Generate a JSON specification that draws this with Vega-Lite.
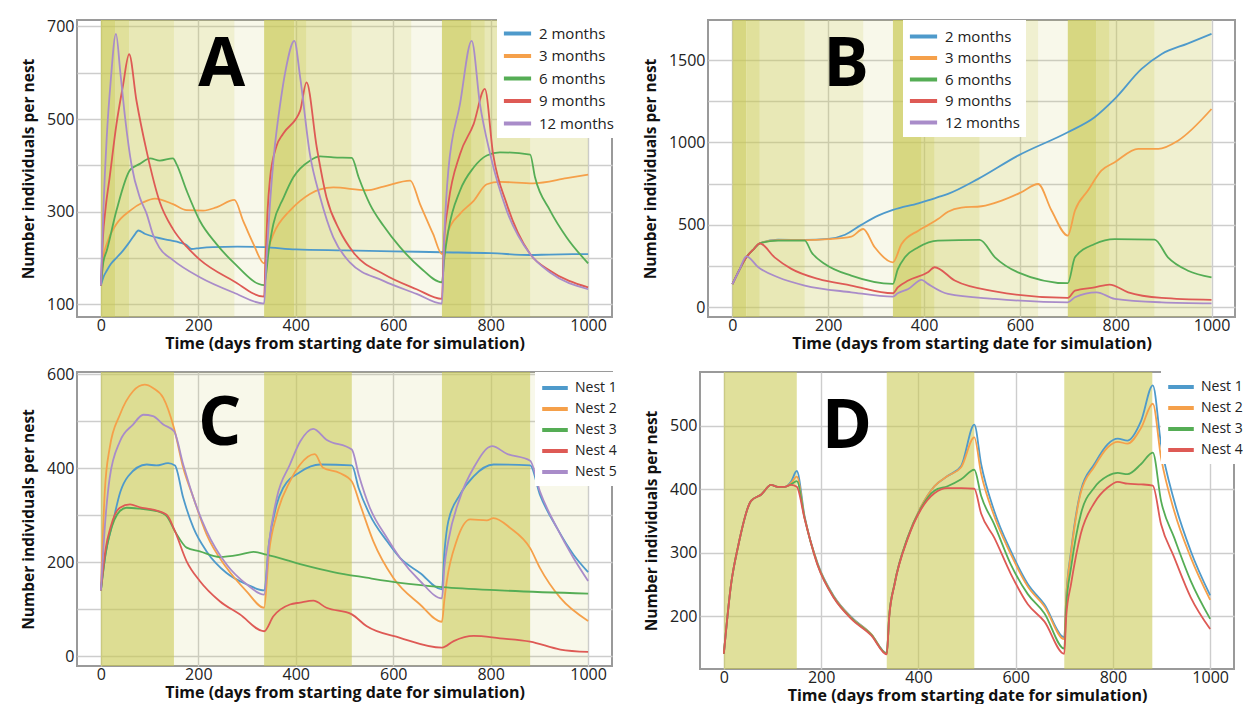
{
  "$schema": "https://vega.github.io/schema/vega-lite/v6.json",
  "background": "white",
  "padding": {"left": 20, "top": 16, "right": 0, "bottom": 0},
  "config": {
    "font": "Open Sans",
    "view": {"stroke": "#9a9a9a", "strokeWidth": 2},
    "axis": {"domain": false, "ticks": false, "gridColor": "#cdcdcd", "gridWidth": 1.4, "labelFontSize": 16, "labelColor": "#222222", "titleFontSize": 16, "titleFontWeight": "bold", "titleColor": "#111111", "labelFont": "Open Sans", "titleFont": "Open Sans", "format": "d"},
    "axisX": {"labelPadding": 0, "titlePadding": 2},
    "axisY": {"labelPadding": 3, "titlePadding": 10, "titleFontSize": 15.5},
    "legend": {"orient": "none", "fillColor": "white", "symbolType": "M-1.6,0H1.6", "symbolStrokeWidth": 4, "symbolSize": 289, "symbolOffset": 4, "labelFontSize": 15, "labelColor": "#222222", "labelFont": "Open Sans", "padding": 6, "rowPadding": 3.5, "labelOffset": 11, "title": null}
  },
  "datasets": {
    "bandsA": [
      {"start": 0, "end": 30, "shade": 4}, {"start": 30, "end": 58, "shade": 3}, {"start": 58, "end": 150, "shade": 2}, {"start": 150, "end": 274, "shade": 1}, {"start": 274, "end": 335, "shade": 0},
      {"start": 335, "end": 397, "shade": 4}, {"start": 397, "end": 422, "shade": 3}, {"start": 422, "end": 515, "shade": 2}, {"start": 515, "end": 637, "shade": 1}, {"start": 637, "end": 700, "shade": 0},
      {"start": 700, "end": 761, "shade": 4}, {"start": 761, "end": 788, "shade": 3}, {"start": 788, "end": 881, "shade": 2}, {"start": 881, "end": 1000, "shade": 1}
    ],
    "bandsB": [
      {"start": 0, "end": 29, "shade": 4}, {"start": 29, "end": 57, "shade": 3}, {"start": 57, "end": 151, "shade": 2}, {"start": 151, "end": 273, "shade": 1}, {"start": 273, "end": 335, "shade": 0},
      {"start": 335, "end": 395, "shade": 4}, {"start": 395, "end": 422, "shade": 3}, {"start": 422, "end": 516, "shade": 2}, {"start": 516, "end": 638, "shade": 1}, {"start": 638, "end": 700, "shade": 0},
      {"start": 700, "end": 760, "shade": 4}, {"start": 760, "end": 787, "shade": 3}, {"start": 787, "end": 881, "shade": 2}, {"start": 881, "end": 1000, "shade": 1}
    ],
    "bandsC": [
      {"start": 0, "end": 150, "shade": 3.3}, {"start": 150, "end": 335, "shade": 0},
      {"start": 335, "end": 515, "shade": 3.3}, {"start": 515, "end": 700, "shade": 0},
      {"start": 700, "end": 881, "shade": 3.3}, {"start": 881, "end": 1000, "shade": 0}
    ],
    "bandsD": [
      {"start": 0, "end": 150, "shade": 3}, {"start": 335, "end": 515, "shade": 3}, {"start": 700, "end": 881, "shade": 3}
    ],
    "A": [
      {"t": 0, "n": 140, "s": "2 months"}, {"t": 6, "n": 160, "s": "2 months"}, {"t": 12, "n": 172, "s": "2 months"}, {"t": 20, "n": 186, "s": "2 months"}, {"t": 32, "n": 200, "s": "2 months"}, {"t": 45, "n": 215, "s": "2 months"}, {"t": 56, "n": 230, "s": "2 months"}, {"t": 68, "n": 248, "s": "2 months"}, {"t": 77, "n": 259, "s": "2 months"}, {"t": 90, "n": 252, "s": "2 months"}, {"t": 114, "n": 244, "s": "2 months"}, {"t": 140, "n": 238, "s": "2 months"}, {"t": 162, "n": 233, "s": "2 months"}, {"t": 175, "n": 228, "s": "2 months"}, {"t": 186, "n": 219, "s": "2 months"}, {"t": 203, "n": 221, "s": "2 months"}, {"t": 230, "n": 223, "s": "2 months"}, {"t": 280, "n": 224, "s": "2 months"}, {"t": 335, "n": 223, "s": "2 months"}, {"t": 400, "n": 218, "s": "2 months"}, {"t": 500, "n": 216, "s": "2 months"}, {"t": 600, "n": 214, "s": "2 months"}, {"t": 700, "n": 212, "s": "2 months"}, {"t": 800, "n": 210, "s": "2 months"}, {"t": 880, "n": 206, "s": "2 months"}, {"t": 920, "n": 207, "s": "2 months"}, {"t": 1000, "n": 208, "s": "2 months"},
      {"t": 0, "n": 140, "s": "3 months"}, {"t": 5, "n": 200, "s": "3 months"}, {"t": 12, "n": 230, "s": "3 months"}, {"t": 32, "n": 273, "s": "3 months"}, {"t": 60, "n": 302, "s": "3 months"}, {"t": 87, "n": 320, "s": "3 months"}, {"t": 111, "n": 328, "s": "3 months"}, {"t": 148, "n": 316, "s": "3 months"}, {"t": 176, "n": 303, "s": "3 months"}, {"t": 210, "n": 302, "s": "3 months"}, {"t": 237, "n": 309, "s": "3 months"}, {"t": 274, "n": 325, "s": "3 months"}, {"t": 292, "n": 280, "s": "3 months"}, {"t": 313, "n": 230, "s": "3 months"}, {"t": 335, "n": 188, "s": "3 months"}, {"t": 345, "n": 225, "s": "3 months"}, {"t": 354, "n": 251, "s": "3 months"}, {"t": 388, "n": 302, "s": "3 months"}, {"t": 409, "n": 323, "s": "3 months"}, {"t": 429, "n": 338, "s": "3 months"}, {"t": 450, "n": 348, "s": "3 months"}, {"t": 477, "n": 352, "s": "3 months"}, {"t": 545, "n": 346, "s": "3 months"}, {"t": 580, "n": 354, "s": "3 months"}, {"t": 635, "n": 367, "s": "3 months"}, {"t": 655, "n": 316, "s": "3 months"}, {"t": 682, "n": 251, "s": "3 months"}, {"t": 700, "n": 208, "s": "3 months"}, {"t": 713, "n": 258, "s": "3 months"}, {"t": 737, "n": 295, "s": "3 months"}, {"t": 765, "n": 323, "s": "3 months"}, {"t": 792, "n": 359, "s": "3 months"}, {"t": 819, "n": 364, "s": "3 months"}, {"t": 887, "n": 361, "s": "3 months"}, {"t": 956, "n": 372, "s": "3 months"}, {"t": 1000, "n": 380, "s": "3 months"},
      {"t": 0, "n": 140, "s": "6 months"}, {"t": 5, "n": 190, "s": "6 months"}, {"t": 12, "n": 215, "s": "6 months"}, {"t": 32, "n": 302, "s": "6 months"}, {"t": 60, "n": 390, "s": "6 months"}, {"t": 80, "n": 403, "s": "6 months"}, {"t": 101, "n": 415, "s": "6 months"}, {"t": 121, "n": 410, "s": "6 months"}, {"t": 148, "n": 415, "s": "6 months"}, {"t": 155, "n": 403, "s": "6 months"}, {"t": 176, "n": 345, "s": "6 months"}, {"t": 203, "n": 280, "s": "6 months"}, {"t": 237, "n": 230, "s": "6 months"}, {"t": 272, "n": 190, "s": "6 months"}, {"t": 335, "n": 141, "s": "6 months"}, {"t": 345, "n": 220, "s": "6 months"}, {"t": 354, "n": 273, "s": "6 months"}, {"t": 375, "n": 330, "s": "6 months"}, {"t": 395, "n": 374, "s": "6 months"}, {"t": 429, "n": 410, "s": "6 months"}, {"t": 450, "n": 419, "s": "6 months"}, {"t": 477, "n": 417, "s": "6 months"}, {"t": 515, "n": 416, "s": "6 months"}, {"t": 529, "n": 374, "s": "6 months"}, {"t": 552, "n": 316, "s": "6 months"}, {"t": 580, "n": 269, "s": "6 months"}, {"t": 614, "n": 223, "s": "6 months"}, {"t": 655, "n": 179, "s": "6 months"}, {"t": 700, "n": 147, "s": "6 months"}, {"t": 705, "n": 200, "s": "6 months"}, {"t": 713, "n": 258, "s": "6 months"}, {"t": 737, "n": 345, "s": "6 months"}, {"t": 765, "n": 395, "s": "6 months"}, {"t": 792, "n": 421, "s": "6 months"}, {"t": 819, "n": 428, "s": "6 months"}, {"t": 881, "n": 423, "s": "6 months"}, {"t": 891, "n": 374, "s": "6 months"}, {"t": 922, "n": 302, "s": "6 months"}, {"t": 956, "n": 244, "s": "6 months"}, {"t": 1000, "n": 188, "s": "6 months"},
      {"t": 0, "n": 140, "s": "9 months"}, {"t": 4, "n": 240, "s": "9 months"}, {"t": 10, "n": 310, "s": "9 months"}, {"t": 18, "n": 374, "s": "9 months"}, {"t": 32, "n": 489, "s": "9 months"}, {"t": 45, "n": 570, "s": "9 months"}, {"t": 58, "n": 640, "s": "9 months"}, {"t": 73, "n": 540, "s": "9 months"}, {"t": 94, "n": 430, "s": "9 months"}, {"t": 121, "n": 320, "s": "9 months"}, {"t": 148, "n": 262, "s": "9 months"}, {"t": 176, "n": 224, "s": "9 months"}, {"t": 203, "n": 196, "s": "9 months"}, {"t": 272, "n": 150, "s": "9 months"}, {"t": 335, "n": 116, "s": "9 months"}, {"t": 338, "n": 200, "s": "9 months"}, {"t": 342, "n": 300, "s": "9 months"}, {"t": 347, "n": 370, "s": "9 months"}, {"t": 360, "n": 440, "s": "9 months"}, {"t": 374, "n": 468, "s": "9 months"}, {"t": 409, "n": 518, "s": "9 months"}, {"t": 422, "n": 579, "s": "9 months"}, {"t": 443, "n": 439, "s": "9 months"}, {"t": 463, "n": 331, "s": "9 months"}, {"t": 490, "n": 259, "s": "9 months"}, {"t": 518, "n": 212, "s": "9 months"}, {"t": 580, "n": 165, "s": "9 months"}, {"t": 648, "n": 132, "s": "9 months"}, {"t": 700, "n": 111, "s": "9 months"}, {"t": 704, "n": 230, "s": "9 months"}, {"t": 713, "n": 316, "s": "9 months"}, {"t": 737, "n": 424, "s": "9 months"}, {"t": 765, "n": 489, "s": "9 months"}, {"t": 788, "n": 565, "s": "9 months"}, {"t": 805, "n": 424, "s": "9 months"}, {"t": 833, "n": 316, "s": "9 months"}, {"t": 881, "n": 208, "s": "9 months"}, {"t": 922, "n": 172, "s": "9 months"}, {"t": 1000, "n": 136, "s": "9 months"},
      {"t": 0, "n": 140, "s": "12 months"}, {"t": 5, "n": 300, "s": "12 months"}, {"t": 12, "n": 460, "s": "12 months"}, {"t": 20, "n": 580, "s": "12 months"}, {"t": 31, "n": 684, "s": "12 months"}, {"t": 40, "n": 600, "s": "12 months"}, {"t": 50, "n": 500, "s": "12 months"}, {"t": 63, "n": 400, "s": "12 months"}, {"t": 80, "n": 330, "s": "12 months"}, {"t": 94, "n": 295, "s": "12 months"}, {"t": 107, "n": 250, "s": "12 months"}, {"t": 120, "n": 222, "s": "12 months"}, {"t": 148, "n": 195, "s": "12 months"}, {"t": 203, "n": 158, "s": "12 months"}, {"t": 272, "n": 125, "s": "12 months"}, {"t": 335, "n": 101, "s": "12 months"}, {"t": 340, "n": 200, "s": "12 months"}, {"t": 347, "n": 316, "s": "12 months"}, {"t": 355, "n": 420, "s": "12 months"}, {"t": 368, "n": 532, "s": "12 months"}, {"t": 380, "n": 610, "s": "12 months"}, {"t": 397, "n": 669, "s": "12 months"}, {"t": 409, "n": 590, "s": "12 months"}, {"t": 429, "n": 424, "s": "12 months"}, {"t": 450, "n": 331, "s": "12 months"}, {"t": 477, "n": 244, "s": "12 months"}, {"t": 511, "n": 190, "s": "12 months"}, {"t": 580, "n": 150, "s": "12 months"}, {"t": 648, "n": 122, "s": "12 months"}, {"t": 700, "n": 101, "s": "12 months"}, {"t": 705, "n": 250, "s": "12 months"}, {"t": 713, "n": 388, "s": "12 months"}, {"t": 737, "n": 532, "s": "12 months"}, {"t": 761, "n": 669, "s": "12 months"}, {"t": 778, "n": 532, "s": "12 months"}, {"t": 799, "n": 424, "s": "12 months"}, {"t": 833, "n": 302, "s": "12 months"}, {"t": 881, "n": 208, "s": "12 months"}, {"t": 922, "n": 168, "s": "12 months"}, {"t": 1000, "n": 132, "s": "12 months"}
    ],
    "B": [
      {"t": 0, "n": 140, "s": "2 months"}, {"t": 15, "n": 230, "s": "2 months"}, {"t": 29, "n": 303, "s": "2 months"}, {"t": 45, "n": 355, "s": "2 months"}, {"t": 57, "n": 388, "s": "2 months"}, {"t": 95, "n": 410, "s": "2 months"}, {"t": 151, "n": 409, "s": "2 months"}, {"t": 200, "n": 415, "s": "2 months"}, {"t": 235, "n": 440, "s": "2 months"}, {"t": 269, "n": 500, "s": "2 months"}, {"t": 304, "n": 556, "s": "2 months"}, {"t": 335, "n": 591, "s": "2 months"}, {"t": 388, "n": 631, "s": "2 months"}, {"t": 408, "n": 648, "s": "2 months"}, {"t": 429, "n": 668, "s": "2 months"}, {"t": 450, "n": 688, "s": "2 months"}, {"t": 513, "n": 779, "s": "2 months"}, {"t": 596, "n": 920, "s": "2 months"}, {"t": 700, "n": 1062, "s": "2 months"}, {"t": 756, "n": 1153, "s": "2 months"}, {"t": 798, "n": 1264, "s": "2 months"}, {"t": 854, "n": 1446, "s": "2 months"}, {"t": 896, "n": 1537, "s": "2 months"}, {"t": 950, "n": 1600, "s": "2 months"}, {"t": 1000, "n": 1659, "s": "2 months"},
      {"t": 0, "n": 140, "s": "3 months"}, {"t": 15, "n": 230, "s": "3 months"}, {"t": 29, "n": 303, "s": "3 months"}, {"t": 45, "n": 355, "s": "3 months"}, {"t": 57, "n": 388, "s": "3 months"}, {"t": 95, "n": 408, "s": "3 months"}, {"t": 151, "n": 407, "s": "3 months"}, {"t": 200, "n": 413, "s": "3 months"}, {"t": 248, "n": 428, "s": "3 months"}, {"t": 273, "n": 475, "s": "3 months"}, {"t": 297, "n": 364, "s": "3 months"}, {"t": 335, "n": 273, "s": "3 months"}, {"t": 353, "n": 384, "s": "3 months"}, {"t": 388, "n": 465, "s": "3 months"}, {"t": 409, "n": 500, "s": "3 months"}, {"t": 429, "n": 535, "s": "3 months"}, {"t": 450, "n": 580, "s": "3 months"}, {"t": 478, "n": 605, "s": "3 months"}, {"t": 520, "n": 613, "s": "3 months"}, {"t": 562, "n": 647, "s": "3 months"}, {"t": 603, "n": 698, "s": "3 months"}, {"t": 638, "n": 748, "s": "3 months"}, {"t": 666, "n": 587, "s": "3 months"}, {"t": 700, "n": 435, "s": "3 months"}, {"t": 715, "n": 587, "s": "3 months"}, {"t": 742, "n": 708, "s": "3 months"}, {"t": 770, "n": 829, "s": "3 months"}, {"t": 798, "n": 880, "s": "3 months"}, {"t": 847, "n": 961, "s": "3 months"}, {"t": 889, "n": 961, "s": "3 months"}, {"t": 930, "n": 1011, "s": "3 months"}, {"t": 1000, "n": 1203, "s": "3 months"},
      {"t": 0, "n": 140, "s": "6 months"}, {"t": 15, "n": 230, "s": "6 months"}, {"t": 29, "n": 303, "s": "6 months"}, {"t": 45, "n": 355, "s": "6 months"}, {"t": 57, "n": 388, "s": "6 months"}, {"t": 95, "n": 405, "s": "6 months"}, {"t": 151, "n": 405, "s": "6 months"}, {"t": 165, "n": 334, "s": "6 months"}, {"t": 193, "n": 263, "s": "6 months"}, {"t": 248, "n": 192, "s": "6 months"}, {"t": 335, "n": 142, "s": "6 months"}, {"t": 345, "n": 230, "s": "6 months"}, {"t": 360, "n": 303, "s": "6 months"}, {"t": 388, "n": 364, "s": "6 months"}, {"t": 429, "n": 404, "s": "6 months"}, {"t": 516, "n": 409, "s": "6 months"}, {"t": 548, "n": 303, "s": "6 months"}, {"t": 596, "n": 212, "s": "6 months"}, {"t": 700, "n": 146, "s": "6 months"}, {"t": 715, "n": 303, "s": "6 months"}, {"t": 756, "n": 384, "s": "6 months"}, {"t": 798, "n": 413, "s": "6 months"}, {"t": 881, "n": 411, "s": "6 months"}, {"t": 909, "n": 303, "s": "6 months"}, {"t": 951, "n": 222, "s": "6 months"}, {"t": 1000, "n": 182, "s": "6 months"},
      {"t": 0, "n": 140, "s": "9 months"}, {"t": 15, "n": 230, "s": "9 months"}, {"t": 29, "n": 303, "s": "9 months"}, {"t": 45, "n": 355, "s": "9 months"}, {"t": 57, "n": 388, "s": "9 months"}, {"t": 88, "n": 303, "s": "9 months"}, {"t": 123, "n": 233, "s": "9 months"}, {"t": 179, "n": 172, "s": "9 months"}, {"t": 248, "n": 132, "s": "9 months"}, {"t": 335, "n": 85, "s": "9 months"}, {"t": 345, "n": 120, "s": "9 months"}, {"t": 367, "n": 162, "s": "9 months"}, {"t": 408, "n": 212, "s": "9 months"}, {"t": 422, "n": 243, "s": "9 months"}, {"t": 464, "n": 162, "s": "9 months"}, {"t": 548, "n": 97, "s": "9 months"}, {"t": 700, "n": 57, "s": "9 months"}, {"t": 715, "n": 101, "s": "9 months"}, {"t": 756, "n": 121, "s": "9 months"}, {"t": 787, "n": 138, "s": "9 months"}, {"t": 826, "n": 91, "s": "9 months"}, {"t": 896, "n": 57, "s": "9 months"}, {"t": 1000, "n": 45, "s": "9 months"},
      {"t": 0, "n": 140, "s": "12 months"}, {"t": 15, "n": 230, "s": "12 months"}, {"t": 29, "n": 309, "s": "12 months"}, {"t": 54, "n": 243, "s": "12 months"}, {"t": 95, "n": 182, "s": "12 months"}, {"t": 151, "n": 132, "s": "12 months"}, {"t": 248, "n": 91, "s": "12 months"}, {"t": 335, "n": 65, "s": "12 months"}, {"t": 345, "n": 85, "s": "12 months"}, {"t": 367, "n": 111, "s": "12 months"}, {"t": 395, "n": 166, "s": "12 months"}, {"t": 408, "n": 142, "s": "12 months"}, {"t": 450, "n": 81, "s": "12 months"}, {"t": 548, "n": 51, "s": "12 months"}, {"t": 700, "n": 30, "s": "12 months"}, {"t": 715, "n": 61, "s": "12 months"}, {"t": 760, "n": 91, "s": "12 months"}, {"t": 798, "n": 51, "s": "12 months"}, {"t": 896, "n": 30, "s": "12 months"}, {"t": 1000, "n": 24, "s": "12 months"}
    ],
    "C": [
      {"t": 0, "n": 140, "s": "Nest 1"}, {"t": 10, "n": 220, "s": "Nest 1"}, {"t": 25, "n": 287, "s": "Nest 1"}, {"t": 40, "n": 350, "s": "Nest 1"}, {"t": 56, "n": 383, "s": "Nest 1"}, {"t": 94, "n": 408, "s": "Nest 1"}, {"t": 114, "n": 406, "s": "Nest 1"}, {"t": 138, "n": 411, "s": "Nest 1"}, {"t": 152, "n": 406, "s": "Nest 1"}, {"t": 169, "n": 337, "s": "Nest 1"}, {"t": 190, "n": 273, "s": "Nest 1"}, {"t": 217, "n": 223, "s": "Nest 1"}, {"t": 258, "n": 177, "s": "Nest 1"}, {"t": 299, "n": 153, "s": "Nest 1"}, {"t": 335, "n": 140, "s": "Nest 1"}, {"t": 345, "n": 240, "s": "Nest 1"}, {"t": 360, "n": 320, "s": "Nest 1"}, {"t": 374, "n": 358, "s": "Nest 1"}, {"t": 409, "n": 392, "s": "Nest 1"}, {"t": 450, "n": 408, "s": "Nest 1"}, {"t": 515, "n": 406, "s": "Nest 1"}, {"t": 529, "n": 358, "s": "Nest 1"}, {"t": 552, "n": 301, "s": "Nest 1"}, {"t": 587, "n": 245, "s": "Nest 1"}, {"t": 614, "n": 209, "s": "Nest 1"}, {"t": 655, "n": 177, "s": "Nest 1"}, {"t": 700, "n": 142, "s": "Nest 1"}, {"t": 705, "n": 220, "s": "Nest 1"}, {"t": 713, "n": 287, "s": "Nest 1"}, {"t": 737, "n": 344, "s": "Nest 1"}, {"t": 765, "n": 383, "s": "Nest 1"}, {"t": 806, "n": 408, "s": "Nest 1"}, {"t": 881, "n": 406, "s": "Nest 1"}, {"t": 901, "n": 344, "s": "Nest 1"}, {"t": 936, "n": 273, "s": "Nest 1"}, {"t": 970, "n": 216, "s": "Nest 1"}, {"t": 1000, "n": 179, "s": "Nest 1"},
      {"t": 0, "n": 140, "s": "Nest 2"}, {"t": 8, "n": 350, "s": "Nest 2"}, {"t": 18, "n": 443, "s": "Nest 2"}, {"t": 39, "n": 514, "s": "Nest 2"}, {"t": 66, "n": 564, "s": "Nest 2"}, {"t": 90, "n": 578, "s": "Nest 2"}, {"t": 107, "n": 571, "s": "Nest 2"}, {"t": 128, "n": 550, "s": "Nest 2"}, {"t": 150, "n": 486, "s": "Nest 2"}, {"t": 169, "n": 401, "s": "Nest 2"}, {"t": 190, "n": 337, "s": "Nest 2"}, {"t": 217, "n": 259, "s": "Nest 2"}, {"t": 258, "n": 188, "s": "Nest 2"}, {"t": 299, "n": 138, "s": "Nest 2"}, {"t": 335, "n": 103, "s": "Nest 2"}, {"t": 345, "n": 220, "s": "Nest 2"}, {"t": 361, "n": 301, "s": "Nest 2"}, {"t": 388, "n": 372, "s": "Nest 2"}, {"t": 409, "n": 408, "s": "Nest 2"}, {"t": 439, "n": 430, "s": "Nest 2"}, {"t": 456, "n": 401, "s": "Nest 2"}, {"t": 490, "n": 390, "s": "Nest 2"}, {"t": 515, "n": 372, "s": "Nest 2"}, {"t": 532, "n": 323, "s": "Nest 2"}, {"t": 559, "n": 245, "s": "Nest 2"}, {"t": 600, "n": 167, "s": "Nest 2"}, {"t": 655, "n": 110, "s": "Nest 2"}, {"t": 700, "n": 73, "s": "Nest 2"}, {"t": 705, "n": 120, "s": "Nest 2"}, {"t": 710, "n": 160, "s": "Nest 2"}, {"t": 730, "n": 245, "s": "Nest 2"}, {"t": 758, "n": 291, "s": "Nest 2"}, {"t": 792, "n": 289, "s": "Nest 2"}, {"t": 806, "n": 294, "s": "Nest 2"}, {"t": 840, "n": 273, "s": "Nest 2"}, {"t": 881, "n": 230, "s": "Nest 2"}, {"t": 901, "n": 188, "s": "Nest 2"}, {"t": 943, "n": 124, "s": "Nest 2"}, {"t": 1000, "n": 75, "s": "Nest 2"},
      {"t": 0, "n": 140, "s": "Nest 3"}, {"t": 10, "n": 220, "s": "Nest 3"}, {"t": 18, "n": 259, "s": "Nest 3"}, {"t": 39, "n": 309, "s": "Nest 3"}, {"t": 53, "n": 316, "s": "Nest 3"}, {"t": 80, "n": 314, "s": "Nest 3"}, {"t": 114, "n": 309, "s": "Nest 3"}, {"t": 135, "n": 298, "s": "Nest 3"}, {"t": 152, "n": 266, "s": "Nest 3"}, {"t": 176, "n": 231, "s": "Nest 3"}, {"t": 203, "n": 223, "s": "Nest 3"}, {"t": 244, "n": 211, "s": "Nest 3"}, {"t": 285, "n": 216, "s": "Nest 3"}, {"t": 313, "n": 222, "s": "Nest 3"}, {"t": 340, "n": 216, "s": "Nest 3"}, {"t": 409, "n": 196, "s": "Nest 3"}, {"t": 477, "n": 179, "s": "Nest 3"}, {"t": 545, "n": 167, "s": "Nest 3"}, {"t": 614, "n": 156, "s": "Nest 3"}, {"t": 701, "n": 147, "s": "Nest 3"}, {"t": 819, "n": 140, "s": "Nest 3"}, {"t": 1000, "n": 133, "s": "Nest 3"},
      {"t": 0, "n": 140, "s": "Nest 4"}, {"t": 10, "n": 230, "s": "Nest 4"}, {"t": 20, "n": 275, "s": "Nest 4"}, {"t": 39, "n": 316, "s": "Nest 4"}, {"t": 60, "n": 323, "s": "Nest 4"}, {"t": 80, "n": 317, "s": "Nest 4"}, {"t": 107, "n": 312, "s": "Nest 4"}, {"t": 135, "n": 301, "s": "Nest 4"}, {"t": 152, "n": 266, "s": "Nest 4"}, {"t": 176, "n": 202, "s": "Nest 4"}, {"t": 203, "n": 160, "s": "Nest 4"}, {"t": 244, "n": 117, "s": "Nest 4"}, {"t": 285, "n": 89, "s": "Nest 4"}, {"t": 335, "n": 53, "s": "Nest 4"}, {"t": 354, "n": 85, "s": "Nest 4"}, {"t": 388, "n": 110, "s": "Nest 4"}, {"t": 409, "n": 114, "s": "Nest 4"}, {"t": 436, "n": 118, "s": "Nest 4"}, {"t": 463, "n": 103, "s": "Nest 4"}, {"t": 515, "n": 89, "s": "Nest 4"}, {"t": 545, "n": 64, "s": "Nest 4"}, {"t": 614, "n": 39, "s": "Nest 4"}, {"t": 700, "n": 18, "s": "Nest 4"}, {"t": 724, "n": 32, "s": "Nest 4"}, {"t": 765, "n": 43, "s": "Nest 4"}, {"t": 819, "n": 38, "s": "Nest 4"}, {"t": 881, "n": 31, "s": "Nest 4"}, {"t": 943, "n": 14, "s": "Nest 4"}, {"t": 1000, "n": 9, "s": "Nest 4"},
      {"t": 0, "n": 140, "s": "Nest 5"}, {"t": 10, "n": 300, "s": "Nest 5"}, {"t": 18, "n": 379, "s": "Nest 5"}, {"t": 39, "n": 457, "s": "Nest 5"}, {"t": 66, "n": 493, "s": "Nest 5"}, {"t": 87, "n": 514, "s": "Nest 5"}, {"t": 107, "n": 511, "s": "Nest 5"}, {"t": 128, "n": 493, "s": "Nest 5"}, {"t": 150, "n": 479, "s": "Nest 5"}, {"t": 169, "n": 408, "s": "Nest 5"}, {"t": 190, "n": 337, "s": "Nest 5"}, {"t": 217, "n": 266, "s": "Nest 5"}, {"t": 258, "n": 195, "s": "Nest 5"}, {"t": 299, "n": 153, "s": "Nest 5"}, {"t": 335, "n": 131, "s": "Nest 5"}, {"t": 345, "n": 240, "s": "Nest 5"}, {"t": 361, "n": 337, "s": "Nest 5"}, {"t": 388, "n": 408, "s": "Nest 5"}, {"t": 409, "n": 457, "s": "Nest 5"}, {"t": 436, "n": 484, "s": "Nest 5"}, {"t": 463, "n": 461, "s": "Nest 5"}, {"t": 515, "n": 440, "s": "Nest 5"}, {"t": 529, "n": 387, "s": "Nest 5"}, {"t": 552, "n": 316, "s": "Nest 5"}, {"t": 587, "n": 252, "s": "Nest 5"}, {"t": 614, "n": 209, "s": "Nest 5"}, {"t": 655, "n": 160, "s": "Nest 5"}, {"t": 700, "n": 123, "s": "Nest 5"}, {"t": 705, "n": 190, "s": "Nest 5"}, {"t": 713, "n": 245, "s": "Nest 5"}, {"t": 737, "n": 337, "s": "Nest 5"}, {"t": 765, "n": 401, "s": "Nest 5"}, {"t": 803, "n": 447, "s": "Nest 5"}, {"t": 833, "n": 431, "s": "Nest 5"}, {"t": 881, "n": 416, "s": "Nest 5"}, {"t": 901, "n": 351, "s": "Nest 5"}, {"t": 936, "n": 273, "s": "Nest 5"}, {"t": 970, "n": 209, "s": "Nest 5"}, {"t": 1000, "n": 160, "s": "Nest 5"}
    ],
    "D": [
      {"t": 0, "n": 141, "s": "Nest 1"}, {"t": 15, "n": 251, "s": "Nest 1"}, {"t": 29, "n": 309, "s": "Nest 1"}, {"t": 56, "n": 382, "s": "Nest 1"}, {"t": 77, "n": 392, "s": "Nest 1"}, {"t": 97, "n": 407, "s": "Nest 1"}, {"t": 111, "n": 404, "s": "Nest 1"}, {"t": 125, "n": 404, "s": "Nest 1"}, {"t": 138, "n": 412, "s": "Nest 1"}, {"t": 150, "n": 429, "s": "Nest 1"}, {"t": 166, "n": 358, "s": "Nest 1"}, {"t": 193, "n": 283, "s": "Nest 1"}, {"t": 227, "n": 231, "s": "Nest 1"}, {"t": 262, "n": 199, "s": "Nest 1"}, {"t": 303, "n": 172, "s": "Nest 1"}, {"t": 335, "n": 142, "s": "Nest 1"}, {"t": 340, "n": 200, "s": "Nest 1"}, {"t": 351, "n": 251, "s": "Nest 1"}, {"t": 378, "n": 324, "s": "Nest 1"}, {"t": 405, "n": 372, "s": "Nest 1"}, {"t": 433, "n": 405, "s": "Nest 1"}, {"t": 460, "n": 421, "s": "Nest 1"}, {"t": 488, "n": 437, "s": "Nest 1"}, {"t": 515, "n": 502, "s": "Nest 1"}, {"t": 529, "n": 440, "s": "Nest 1"}, {"t": 556, "n": 366, "s": "Nest 1"}, {"t": 590, "n": 303, "s": "Nest 1"}, {"t": 625, "n": 251, "s": "Nest 1"}, {"t": 659, "n": 219, "s": "Nest 1"}, {"t": 700, "n": 167, "s": "Nest 1"}, {"t": 704, "n": 230, "s": "Nest 1"}, {"t": 714, "n": 303, "s": "Nest 1"}, {"t": 734, "n": 398, "s": "Nest 1"}, {"t": 762, "n": 440, "s": "Nest 1"}, {"t": 789, "n": 471, "s": "Nest 1"}, {"t": 810, "n": 480, "s": "Nest 1"}, {"t": 830, "n": 477, "s": "Nest 1"}, {"t": 858, "n": 508, "s": "Nest 1"}, {"t": 882, "n": 564, "s": "Nest 1"}, {"t": 899, "n": 471, "s": "Nest 1"}, {"t": 926, "n": 382, "s": "Nest 1"}, {"t": 960, "n": 303, "s": "Nest 1"}, {"t": 1000, "n": 233, "s": "Nest 1"},
      {"t": 0, "n": 141, "s": "Nest 2"}, {"t": 15, "n": 251, "s": "Nest 2"}, {"t": 29, "n": 309, "s": "Nest 2"}, {"t": 56, "n": 382, "s": "Nest 2"}, {"t": 77, "n": 392, "s": "Nest 2"}, {"t": 97, "n": 407, "s": "Nest 2"}, {"t": 111, "n": 404, "s": "Nest 2"}, {"t": 125, "n": 404, "s": "Nest 2"}, {"t": 138, "n": 410, "s": "Nest 2"}, {"t": 150, "n": 420, "s": "Nest 2"}, {"t": 166, "n": 356, "s": "Nest 2"}, {"t": 193, "n": 282, "s": "Nest 2"}, {"t": 227, "n": 230, "s": "Nest 2"}, {"t": 262, "n": 198, "s": "Nest 2"}, {"t": 303, "n": 172, "s": "Nest 2"}, {"t": 335, "n": 141, "s": "Nest 2"}, {"t": 340, "n": 200, "s": "Nest 2"}, {"t": 351, "n": 251, "s": "Nest 2"}, {"t": 378, "n": 324, "s": "Nest 2"}, {"t": 405, "n": 372, "s": "Nest 2"}, {"t": 433, "n": 405, "s": "Nest 2"}, {"t": 460, "n": 421, "s": "Nest 2"}, {"t": 488, "n": 435, "s": "Nest 2"}, {"t": 515, "n": 482, "s": "Nest 2"}, {"t": 529, "n": 425, "s": "Nest 2"}, {"t": 556, "n": 358, "s": "Nest 2"}, {"t": 590, "n": 298, "s": "Nest 2"}, {"t": 625, "n": 247, "s": "Nest 2"}, {"t": 659, "n": 216, "s": "Nest 2"}, {"t": 700, "n": 164, "s": "Nest 2"}, {"t": 704, "n": 228, "s": "Nest 2"}, {"t": 714, "n": 300, "s": "Nest 2"}, {"t": 734, "n": 395, "s": "Nest 2"}, {"t": 762, "n": 436, "s": "Nest 2"}, {"t": 789, "n": 466, "s": "Nest 2"}, {"t": 810, "n": 475, "s": "Nest 2"}, {"t": 830, "n": 472, "s": "Nest 2"}, {"t": 858, "n": 497, "s": "Nest 2"}, {"t": 882, "n": 535, "s": "Nest 2"}, {"t": 899, "n": 450, "s": "Nest 2"}, {"t": 926, "n": 366, "s": "Nest 2"}, {"t": 960, "n": 293, "s": "Nest 2"}, {"t": 1000, "n": 226, "s": "Nest 2"},
      {"t": 0, "n": 141, "s": "Nest 3"}, {"t": 15, "n": 251, "s": "Nest 3"}, {"t": 29, "n": 309, "s": "Nest 3"}, {"t": 56, "n": 382, "s": "Nest 3"}, {"t": 77, "n": 392, "s": "Nest 3"}, {"t": 97, "n": 407, "s": "Nest 3"}, {"t": 111, "n": 404, "s": "Nest 3"}, {"t": 125, "n": 404, "s": "Nest 3"}, {"t": 138, "n": 408, "s": "Nest 3"}, {"t": 150, "n": 413, "s": "Nest 3"}, {"t": 166, "n": 355, "s": "Nest 3"}, {"t": 193, "n": 281, "s": "Nest 3"}, {"t": 227, "n": 229, "s": "Nest 3"}, {"t": 262, "n": 197, "s": "Nest 3"}, {"t": 303, "n": 171, "s": "Nest 3"}, {"t": 335, "n": 141, "s": "Nest 3"}, {"t": 340, "n": 200, "s": "Nest 3"}, {"t": 351, "n": 251, "s": "Nest 3"}, {"t": 378, "n": 324, "s": "Nest 3"}, {"t": 405, "n": 370, "s": "Nest 3"}, {"t": 433, "n": 398, "s": "Nest 3"}, {"t": 460, "n": 405, "s": "Nest 3"}, {"t": 488, "n": 416, "s": "Nest 3"}, {"t": 515, "n": 431, "s": "Nest 3"}, {"t": 529, "n": 390, "s": "Nest 3"}, {"t": 556, "n": 345, "s": "Nest 3"}, {"t": 590, "n": 282, "s": "Nest 3"}, {"t": 625, "n": 235, "s": "Nest 3"}, {"t": 659, "n": 205, "s": "Nest 3"}, {"t": 700, "n": 149, "s": "Nest 3"}, {"t": 704, "n": 215, "s": "Nest 3"}, {"t": 714, "n": 277, "s": "Nest 3"}, {"t": 734, "n": 361, "s": "Nest 3"}, {"t": 762, "n": 403, "s": "Nest 3"}, {"t": 789, "n": 421, "s": "Nest 3"}, {"t": 810, "n": 426, "s": "Nest 3"}, {"t": 830, "n": 424, "s": "Nest 3"}, {"t": 858, "n": 440, "s": "Nest 3"}, {"t": 882, "n": 458, "s": "Nest 3"}, {"t": 899, "n": 382, "s": "Nest 3"}, {"t": 926, "n": 324, "s": "Nest 3"}, {"t": 960, "n": 256, "s": "Nest 3"}, {"t": 1000, "n": 196, "s": "Nest 3"},
      {"t": 0, "n": 141, "s": "Nest 4"}, {"t": 15, "n": 251, "s": "Nest 4"}, {"t": 29, "n": 309, "s": "Nest 4"}, {"t": 56, "n": 382, "s": "Nest 4"}, {"t": 77, "n": 392, "s": "Nest 4"}, {"t": 97, "n": 407, "s": "Nest 4"}, {"t": 111, "n": 404, "s": "Nest 4"}, {"t": 125, "n": 404, "s": "Nest 4"}, {"t": 138, "n": 407, "s": "Nest 4"}, {"t": 150, "n": 404, "s": "Nest 4"}, {"t": 166, "n": 354, "s": "Nest 4"}, {"t": 193, "n": 280, "s": "Nest 4"}, {"t": 227, "n": 228, "s": "Nest 4"}, {"t": 262, "n": 196, "s": "Nest 4"}, {"t": 303, "n": 170, "s": "Nest 4"}, {"t": 335, "n": 140, "s": "Nest 4"}, {"t": 340, "n": 198, "s": "Nest 4"}, {"t": 351, "n": 250, "s": "Nest 4"}, {"t": 378, "n": 322, "s": "Nest 4"}, {"t": 405, "n": 368, "s": "Nest 4"}, {"t": 433, "n": 394, "s": "Nest 4"}, {"t": 460, "n": 402, "s": "Nest 4"}, {"t": 488, "n": 402, "s": "Nest 4"}, {"t": 515, "n": 401, "s": "Nest 4"}, {"t": 529, "n": 362, "s": "Nest 4"}, {"t": 556, "n": 324, "s": "Nest 4"}, {"t": 590, "n": 267, "s": "Nest 4"}, {"t": 625, "n": 219, "s": "Nest 4"}, {"t": 659, "n": 192, "s": "Nest 4"}, {"t": 700, "n": 141, "s": "Nest 4"}, {"t": 704, "n": 200, "s": "Nest 4"}, {"t": 714, "n": 251, "s": "Nest 4"}, {"t": 734, "n": 330, "s": "Nest 4"}, {"t": 762, "n": 379, "s": "Nest 4"}, {"t": 789, "n": 403, "s": "Nest 4"}, {"t": 810, "n": 412, "s": "Nest 4"}, {"t": 830, "n": 409, "s": "Nest 4"}, {"t": 858, "n": 408, "s": "Nest 4"}, {"t": 882, "n": 406, "s": "Nest 4"}, {"t": 899, "n": 345, "s": "Nest 4"}, {"t": 926, "n": 293, "s": "Nest 4"}, {"t": 960, "n": 230, "s": "Nest 4"}, {"t": 1000, "n": 180, "s": "Nest 4"}
    ]
  },
  "resolve": {"scale": {"color": "independent", "opacity": "independent"}, "legend": {"color": "independent"}},
  "spacing": 13,
  "vconcat": [
    {
      "spacing": 21,
      "resolve": {"scale": {"color": "independent", "opacity": "independent"}, "legend": {"color": "independent"}},
      "hconcat": [
        {
          "width": 535, "height": 297,
          "layer": [
            {"data": {"name": "bandsA"}, "mark": {"type": "rect", "color": "#c8c850"},
             "encoding": {
               "x": {"field": "start", "type": "quantitative", "scale": {"domain": [-49, 1049], "nice": false, "zero": false}, "axis": {"values": [0, 200, 400, 600, 800, 1000], "title": "Time (days from starting date for simulation)"}},
               "x2": {"field": "end"},
               "opacity": {"field": "shade", "type": "quantitative", "scale": {"type": "linear", "domain": [0, 4], "range": [0.12, 0.72]}, "legend": null}}},
            {"data": {"name": "A"}, "mark": {"type": "line", "strokeWidth": 1.8, "interpolate": "monotone"},
             "encoding": {
               "x": {"field": "t", "type": "quantitative", "scale": {"domain": [-49, 1049], "nice": false, "zero": false}},
               "y": {"field": "n", "type": "quantitative", "scale": {"domain": [72, 714], "nice": false, "zero": false}, "axis": {"values": [100, 200, 300, 400, 500, 600, 700], "labelExpr": "datum.value % 200 == 100 ? datum.label : ''", "title": "Number individuals per nest"}},
               "color": {"field": "s", "type": "nominal", "scale": {"domain": ["2 months", "3 months", "6 months", "9 months", "12 months"], "range": ["#4e9acb", "#f5a04a", "#55ad55", "#de5a55", "#a98cc9"]}, "legend": {"legendX": 420, "legendY": -3, "labelExpr": "length(datum.label) < 9 ? '\u2007' + datum.label : datum.label"}}}},
            {"data": {"values": [{"panel": "A"}]}, "mark": {"type": "text", "fontSize": 68, "fontWeight": "bold", "color": "#000000", "align": "center", "baseline": "alphabetic"},
             "encoding": {"x": {"datum": 248}, "y": {"datum": 571}, "text": {"field": "panel"}}}
          ]
        },
        {
          "width": 527, "height": 297,
          "layer": [
            {"data": {"name": "bandsB"}, "mark": {"type": "rect", "color": "#c8c850"},
             "encoding": {
               "x": {"field": "start", "type": "quantitative", "scale": {"domain": [-51, 1049], "nice": false, "zero": false}, "axis": {"values": [0, 200, 400, 600, 800, 1000], "title": "Time (days from starting date for simulation)"}},
               "x2": {"field": "end"},
               "opacity": {"field": "shade", "type": "quantitative", "scale": {"type": "linear", "domain": [0, 4], "range": [0.12, 0.72]}, "legend": null}}},
            {"data": {"name": "B"}, "mark": {"type": "line", "strokeWidth": 1.8, "interpolate": "monotone"},
             "encoding": {
               "x": {"field": "t", "type": "quantitative", "scale": {"domain": [-51, 1049], "nice": false, "zero": false}},
               "y": {"field": "n", "type": "quantitative", "scale": {"domain": [-59, 1743], "nice": false, "zero": false}, "axis": {"values": [0, 250, 500, 750, 1000, 1250, 1500], "labelExpr": "datum.value % 500 == 0 ? datum.label : ''", "title": "Number individuals per nest"}},
               "color": {"field": "s", "type": "nominal", "scale": {"domain": ["2 months", "3 months", "6 months", "9 months", "12 months"], "range": ["#4e9acb", "#f5a04a", "#55ad55", "#de5a55", "#a98cc9"]}, "legend": {"legendX": 195, "legendY": 0, "rowPadding": 2.5, "labelExpr": "length(datum.label) < 9 ? '\u2007' + datum.label : datum.label"}}}},
            {"data": {"values": [{"panel": "B"}]}, "mark": {"type": "text", "fontSize": 68, "fontWeight": "bold", "color": "#000000", "align": "center", "baseline": "alphabetic"},
             "encoding": {"x": {"datum": 237}, "y": {"datum": 1345}, "text": {"field": "panel"}}}
          ]
        }
      ]
    },
    {
      "spacing": 19,
      "resolve": {"scale": {"color": "independent", "opacity": "independent"}, "legend": {"color": "independent"}},
      "hconcat": [
        {
          "width": 535, "height": 294,
          "layer": [
            {"data": {"name": "bandsC"}, "mark": {"type": "rect", "color": "#c8c850"},
             "encoding": {
               "x": {"field": "start", "type": "quantitative", "scale": {"domain": [-49, 1049], "nice": false, "zero": false}, "axis": {"values": [0, 200, 400, 600, 800, 1000], "title": "Time (days from starting date for simulation)"}},
               "x2": {"field": "end"},
               "opacity": {"field": "shade", "type": "quantitative", "scale": {"type": "linear", "domain": [0, 4], "range": [0.12, 0.72]}, "legend": null}}},
            {"data": {"name": "C"}, "mark": {"type": "line", "strokeWidth": 1.8, "interpolate": "monotone"},
             "encoding": {
               "x": {"field": "t", "type": "quantitative", "scale": {"domain": [-49, 1049], "nice": false, "zero": false}},
               "y": {"field": "n", "type": "quantitative", "scale": {"domain": [-21, 605], "nice": false, "zero": false}, "axis": {"values": [0, 100, 200, 300, 400, 500, 600], "labelExpr": "datum.value % 200 == 0 ? datum.label : ''", "title": "Number individuals per nest"}},
               "color": {"field": "s", "type": "nominal", "scale": {"domain": ["Nest 1", "Nest 2", "Nest 3", "Nest 4", "Nest 5"], "range": ["#4e9acb", "#f5a04a", "#55ad55", "#de5a55", "#a98cc9"]}, "legend": {"legendX": 458, "legendY": 0, "labelFontSize": 14, "rowPadding": 3, "symbolSize": 256, "labelOffset": 10}}}},
            {"data": {"values": [{"panel": "C"}]}, "mark": {"type": "text", "fontSize": 68, "fontWeight": "bold", "color": "#000000", "align": "center", "baseline": "alphabetic"},
             "encoding": {"x": {"datum": 244}, "y": {"datum": 450}, "text": {"field": "panel"}}}
          ]
        },
        {
          "width": 534, "height": 297,
          "layer": [
            {"data": {"name": "bandsD"}, "mark": {"type": "rect", "color": "#c8c850"},
             "encoding": {
               "x": {"field": "start", "type": "quantitative", "scale": {"domain": [-49, 1049], "nice": false, "zero": false}, "axis": {"values": [0, 200, 400, 600, 800, 1000], "title": "Time (days from starting date for simulation)"}},
               "x2": {"field": "end"},
               "opacity": {"field": "shade", "type": "quantitative", "scale": {"type": "linear", "domain": [0, 4], "range": [0.12, 0.72]}, "legend": null}}},
            {"data": {"name": "D"}, "mark": {"type": "line", "strokeWidth": 1.8, "interpolate": "monotone"},
             "encoding": {
               "x": {"field": "t", "type": "quantitative", "scale": {"domain": [-49, 1049], "nice": false, "zero": false}},
               "y": {"field": "n", "type": "quantitative", "scale": {"domain": [117, 585], "nice": false, "zero": false}, "axis": {"values": [200, 300, 400, 500], "title": "Number individuals per nest"}},
               "color": {"field": "s", "type": "nominal", "scale": {"domain": ["Nest 1", "Nest 2", "Nest 3", "Nest 4"], "range": ["#4e9acb", "#f5a04a", "#55ad55", "#de5a55"]}, "legend": {"legendX": 461, "legendY": -1, "labelFontSize": 14, "rowPadding": 3, "symbolSize": 256, "labelOffset": 10}}}},
            {"data": {"values": [{"panel": "D"}]}, "mark": {"type": "text", "fontSize": 68, "fontWeight": "bold", "color": "#000000", "align": "center", "baseline": "alphabetic"},
             "encoding": {"x": {"datum": 253}, "y": {"datum": 466}, "text": {"field": "panel"}}}
          ]
        }
      ]
    }
  ]
}
